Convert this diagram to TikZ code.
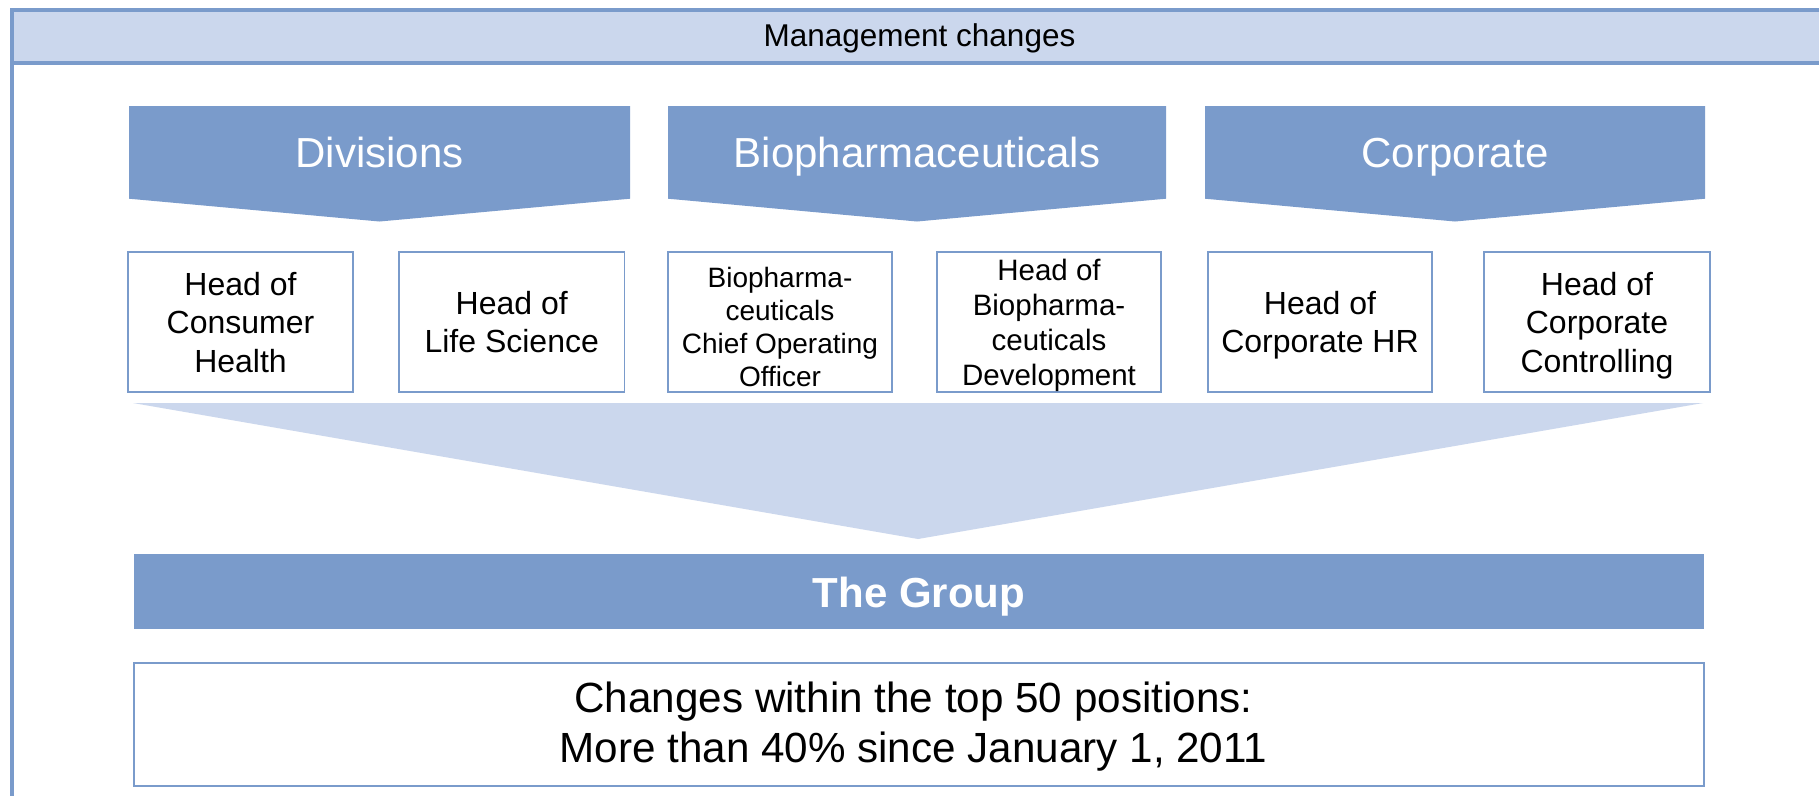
\documentclass[tikz,border=0pt]{standalone}
\usepackage{fontspec}
\setmainfont{Liberation Sans}
\definecolor{dkblue}{RGB}{122,155,203}
\definecolor{ltblue}{RGB}{203,215,237}
\begin{document}
\begin{tikzpicture}[x=1pt,y=-1pt,
  rolebox/.style={draw=dkblue, line width=1.8pt, fill=white, align=center,
    inner sep=0pt, minimum height=140pt, text depth=0pt, font=\fontsize{32}{38.5}\selectfont},
  roletext/.style={align=center, inner sep=0pt, text depth=0pt},
  chevtext/.style={text=white, anchor=base, font=\fontsize{42}{50}\selectfont},
  chevfill/.style={fill=dkblue}
]
\useasboundingbox (0,0) rectangle (1819,796);
\fill[white] (0,0) rectangle (1819,796);
% header
\fill[ltblue] (12,10) rectangle (1819,63);
\draw[dkblue, line width=4pt] (12,10) -- (1819,10);
\draw[dkblue, line width=4pt] (12,63) -- (1819,63);
\draw[dkblue, line width=3.5pt] (12,8) -- (12,796);
\node[anchor=base, font=\fontsize{31.5}{36}\selectfont] (hdr) at (919.5,46) {Management changes};
% chevrons
\fill[chevfill] (129,106) -- (630,106) -- (630,198.7) -- (379.5,221.5) -- (129,198.7) -- cycle;
\fill[chevfill] (668,106) -- (1166,106) -- (1166,198.7) -- (917,221.5) -- (668,198.7) -- cycle;
\fill[chevfill] (1205,106) -- (1705,106) -- (1705,198.7) -- (1455,221.5) -- (1205,198.7) -- cycle;
\node[chevtext] (divt) at (379.5,167.7) {Divisions};
\node[chevtext] (biot) at (917,167.7) {Biopharmaceuticals};
\node[chevtext] (cort) at (1455,167.7) {Corporate};
% role boxes
\node[rolebox, minimum width=225pt] (b1) at (240.5,322) {Head of\\Consumer\\Health};
\node[rolebox, minimum width=225.5pt] (b2) at (511.75,322) {Head of\\Life Science};
\node[rolebox, minimum width=224pt] (b3) at (780,322) {};
\node[roletext, font=\fontsize{28}{33.1}\selectfont] (b3t) at (780,327) {Biopharma-\\ceuticals\\Chief Operating\\Officer};
\node[rolebox, minimum width=224pt, font=\fontsize{29.5}{35.1}\selectfont] (b4) at (1049,322) {Head of\\Biopharma-\\ceuticals\\Development};
\node[rolebox, minimum width=224pt] (b5) at (1320,322) {Head of\\Corporate HR};
\node[rolebox, minimum width=226pt] (b6) at (1597,322) {Head of\\Corporate\\Controlling};
% big light chevron
\fill[ltblue] (133,403) -- (1703,403) -- (918,539) -- cycle;
% group bar
\fill[dkblue] (134,554) rectangle (1704,629);
\node[anchor=base, text=white, font=\bfseries\fontsize{42}{50}\selectfont] (grp) at (919,607.7) {The Group};
% bottom box
\node[draw=dkblue, line width=1.8pt, minimum width=1570pt, minimum height=123pt, inner sep=0pt] (chg) at (919,724.5) {};
\node[roletext, font=\fontsize{42.2}{50}\selectfont] (chgt) at (913.5,722.6)
  {Changes within the top 50 positions:\\More than 40\% since January 1, 2011};
\end{tikzpicture}
\end{document}
